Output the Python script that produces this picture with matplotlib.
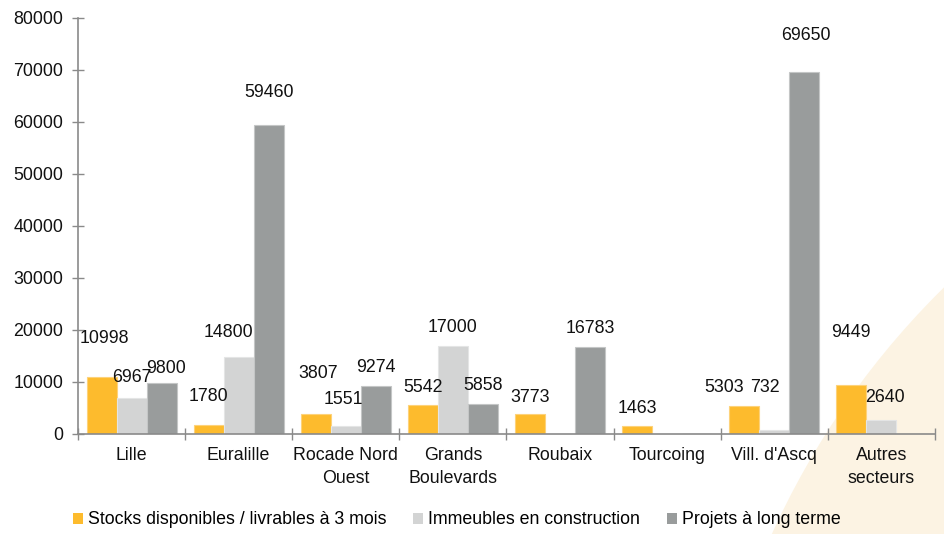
import matplotlib
matplotlib.use("Agg")
import matplotlib.pyplot as plt
from matplotlib.patches import Circle
import numpy as np

plt.rcParams['font.family'] = ['Liberation Sans', 'DejaVu Sans']

categories = ["Lille", "Euralille", "Rocade Nord\nOuest", "Grands\nBoulevards",
              "Roubaix", "Tourcoing", "Vill. d'Ascq", "Autres\nsecteurs"]
series_names = ["Stocks disponibles / livrables à 3 mois",
                "Immeubles en construction",
                "Projets à long terme"]
stocks = [10998, 1780, 3807, 5542, 3773, 1463, 5303, 9449]
construction = [6967, 14800, 1551, 17000, 0, 0, 732, 2640]
projets = [9800, 59460, 9274, 5858, 16783, 0, 69650, 0]
yticks = [0, 10000, 20000, 30000, 40000, 50000, 60000, 70000, 80000]

colors = ["#FDBB2D", "#D3D4D4", "#999C9C"]
edge_colors = ["#FDD27A", "#E4E5E5", "#C4C6C6"]

# label offsets (pixels) relative to bar top centre
label_dx = [[3, 0, 2, 0, 0, 0, -20, -1],
            [0, -10, -2, 0, 0, 0, -9, 4],
            [4, 0, 0, 0, 0, 0, 2, 0]]
label_dy = [[38, 28, 41, 18, 17, 18, 19, 52],
            [20, 25, 26, 18, 18, 18, 43, 23],
            [15, 32, 18, 18, 18, 18, 36, 18]]

W, H = 945, 534
fs = 12.8
fig = plt.figure(figsize=(W / 100, H / 100), dpi=100)

# decorative background shape
circ = Circle((15.18, (534 - 871.6) / 100), 8.19, transform=fig.dpi_scale_trans,
              facecolor="#FCF3E3", edgecolor="none", zorder=-5)
fig.patches.append(circ)

ax = fig.add_axes([78 / W, (H - 434) / H, (935 - 78) / W, (434 - 18) / H])
ax.set_zorder(1)
ax.patch.set_alpha(0)

x = np.arange(len(categories))
bw = 0.28
data = [stocks, construction, projets]
px2pt = 0.72
for s, vals in enumerate(data):
    xs = x + (s - 1) * bw
    ax.bar(xs, vals, width=bw, color=colors[s], edgecolor=edge_colors[s],
           linewidth=0.8, label=series_names[s], zorder=2)
    for i, v in enumerate(vals):
        if v == 0:
            continue
        ax.annotate(str(v), (xs[i], v),
                    xytext=(label_dx[s][i] * px2pt, label_dy[s][i] * px2pt),
                    textcoords="offset points", ha="center", va="center",
                    fontsize=fs, color="#111111", zorder=3)

ax.set_xlim(-0.5, len(categories) - 0.5)
ax.set_ylim(0, 80000)
ax.set_yticks(yticks)
ax.set_yticklabels([str(t) for t in yticks], fontsize=fs, color="#111111")
ax.set_xticks(x)
ax.set_xticklabels(categories, fontsize=fs, color="#111111", linespacing=1.5)
ax.set_xticks(np.arange(-0.5, len(categories)), minor=True)
ax.tick_params(axis="x", which="major", length=0, pad=9)
ax.tick_params(axis="x", which="minor", direction="inout", length=9,
               width=1, color="#8A8A8A")
ax.tick_params(axis="y", direction="inout", length=9, width=1,
               color="#8A8A8A", pad=6)
for sp in ["top", "right"]:
    ax.spines[sp].set_visible(False)
for sp in ["left", "bottom"]:
    ax.spines[sp].set_color("#8A8A8A")
    ax.spines[sp].set_linewidth(1.2)

leg = fig.legend(loc="center", bbox_to_anchor=(457 / W, (H - 520) / H),
                 ncol=3, frameon=False, fontsize=fs, handlelength=0.55,
                 handleheight=0.55, handletextpad=0.3, columnspacing=1.5)
for h in leg.legend_handles:
    h.set_edgecolor("none")

fig.savefig("out.png", dpi=100)
